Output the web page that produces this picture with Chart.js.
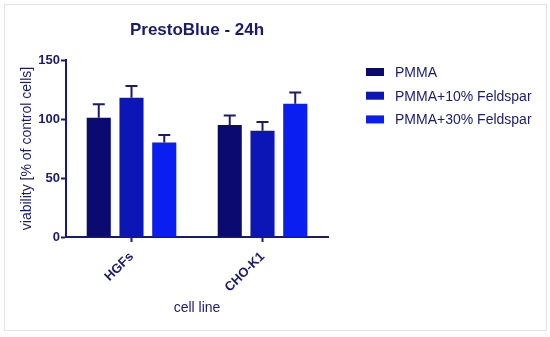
<!DOCTYPE html>
<html>
<head>
<meta charset="utf-8">
<script src="https://cdn.jsdelivr.net/npm/chart.js@4/dist/chart.umd.min.js"></script>
<style>
  html, body { margin: 0; padding: 0; background: #fff; }
  #wrap { position: relative; width: 550px; height: 337px; }
  #frame { position: absolute; left: 4px; top: 4px; width: 541px; height: 325px; border: 1.5px solid #e2e2e2; pointer-events: none; }
  canvas { position: absolute; left: 0; top: 0; }
</style>
</head>
<body>
<div id="wrap">
  <canvas id="c" width="550" height="337"></canvas>
  <div id="frame"></div>
</div>
<script>
/* PrestoBlue 24h viability – grouped bars with upper error caps */

const categories = ['HGFs', 'CHO-K1'];
const seriesNames = ['PMMA', 'PMMA+10% Feldspar', 'PMMA+30% Feldspar'];
const pmma      = [101, 95];
const pmma10    = [118, 90];
const pmma30    = [80, 113];
const pmmaErr   = [11.5, 8];
const pmma10Err = [10, 7.5];
const pmma30Err = [6.5, 9.5];
const yTicks    = [0, 50, 100, 150];

const INK = '#1b1b6b';
const colors = ['#0a0a70', '#0c16b6', '#0a1ef2'];
const FONT = "'Liberation Sans', Arial, sans-serif";

const errBars = {
  id: 'errBars',
  afterDatasetsDraw(chart) {
    const { ctx } = chart;
    const y = chart.scales.y;
    ctx.save();
    ctx.strokeStyle = INK;
    ctx.lineWidth = 2;
    chart.data.datasets.forEach((ds, i) => {
      const meta = chart.getDatasetMeta(i);
      meta.data.forEach((bar, j) => {
        const top = y.getPixelForValue(ds.data[j] + ds.err[j]);
        ctx.beginPath();
        ctx.moveTo(bar.x, bar.y);
        ctx.lineTo(bar.x, top);
        ctx.moveTo(bar.x - 6, top);
        ctx.lineTo(bar.x + 6, top);
        ctx.stroke();
      });
    });
    ctx.restore();
  }
};

const sideLegend = {
  id: 'sideLegend',
  afterDraw(chart) {
    const { ctx, chartArea } = chart;
    const x0 = chartArea.right + 38;
    ctx.save();
    ctx.font = '14px ' + FONT;
    ctx.textBaseline = 'middle';
    chart.data.datasets.forEach((ds, i) => {
      const cy = 72 + i * 23.7;
      ctx.fillStyle = ds.backgroundColor;
      ctx.fillRect(x0, cy - 4, 18, 8);
      ctx.fillStyle = INK;
      ctx.fillText(ds.label, x0 + 29, cy + 1);
    });
    ctx.restore();
  }
};

const datasets = [pmma, pmma10, pmma30].map((d, i) => ({
  label: seriesNames[i],
  data: d,
  err: [pmmaErr, pmma10Err, pmma30Err][i],
  backgroundColor: colors[i],
  borderWidth: 0,
  categoryPercentage: 0.75,
  barPercentage: 0.735,
}));

new Chart(document.getElementById('c'), {
  type: 'bar',
  data: { labels: categories, datasets },
  plugins: [errBars, sideLegend],
  options: {
    responsive: false,
    animation: false,
    layout: { padding: { left: 0, top: 0, right: 222, bottom: 0 } },
    plugins: {
      legend: { display: false },
      tooltip: { enabled: false },
      title: {
        display: true,
        text: 'PrestoBlue - 24h',
        fullSize: false,
        color: INK,
        font: { family: FONT, size: 17, weight: 'bold' },
        padding: { top: 20, bottom: 19.6 },
      },
    },
    scales: {
      x: {
        afterFit: s => { s.height = 100; },
        border: { color: INK, width: 2 },
        grid: { display: true, drawOnChartArea: false, offset: false, tickLength: 5, tickWidth: 2, tickColor: INK },
        ticks: { color: INK, font: { family: FONT, size: 13, weight: 'bold' }, minRotation: 45, maxRotation: 45, padding: 7 },
        title: { display: true, text: 'cell line', color: INK, font: { family: FONT, size: 14 }, padding: { top: 0, bottom: 20 } },
      },
      y: {
        min: 0, max: 150,
        afterFit: s => { s.width = 66; },
        afterBuildTicks: s => { s.ticks = yTicks.map(v => ({ value: v })); },
        border: { color: INK, width: 2 },
        grid: { display: true, drawOnChartArea: false, tickLength: 5, tickWidth: 2, tickColor: INK },
        ticks: { color: INK, font: { family: FONT, size: 13, weight: 'bold' }, padding: 1 },
        title: { display: true, text: 'viability [% of control cells]', color: INK, font: { family: FONT, size: 14 }, padding: { top: 19, bottom: 0 } },
      },
    },
  },
});
</script>
</body>
</html>
